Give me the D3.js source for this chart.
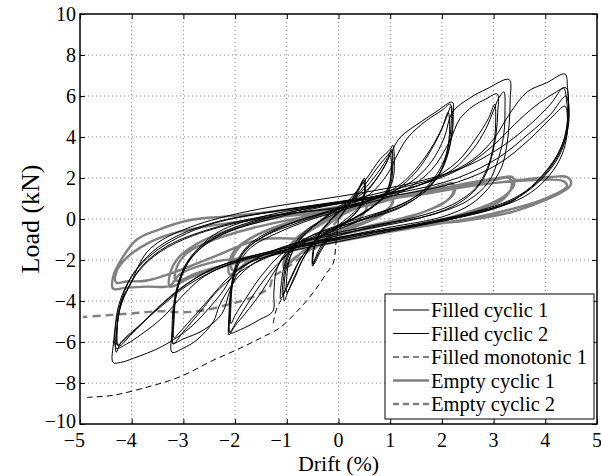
<!DOCTYPE html>
<html>
<head>
<meta charset="utf-8">
<script src="https://cdnjs.cloudflare.com/ajax/libs/d3/7.8.5/d3.min.js"></script>
<style>
  body { margin: 0; background: #fff; }
  svg { display: block; }
  .grid line { stroke: #8c8c8c; stroke-dasharray: 1,3; stroke-width: 1; }
</style>
</head>
<body>
<svg id="MyGraph" width="601" height="476" font-family="Liberation Serif, Times New Roman, serif"></svg>
<script>

// tick values
var xTicks = [-5, -4, -3, -2, -1, 0, 1, 2, 3, 4, 5];
var yTicks = [-10, -8, -6, -4, -2, 0, 2, 4, 6, 8, 10];

var legendLabels = ["Filled cyclic 1", "Filled cyclic 2", "Filled monotonic 1", "Empty cyclic 1", "Empty cyclic 2"];

// [drift %, load kN]
var filledCyclic1 = [
  [0,0],[0.15,0.5],[0.3,1.1],[0.42,1.6],[0.5,2.0],
  [0.52,1.4],[0.45,0.7],[0.3,0.2],[0,-0.4],[-0.2,-0.9],[-0.35,-1.5],[-0.45,-2.0],[-0.5,-2.3],
  [-0.5,-1.7],[-0.42,-1.0],[-0.25,-0.3],[0,0.3],[0.2,0.8],[0.35,1.3],[0.48,1.9],
  [0.5,1.3],[0.42,0.6],[0.25,0.1],[0,-0.5],[-0.2,-1.0],[-0.35,-1.6],[-0.48,-2.2],
  [-0.48,-1.5],[-0.38,-0.8],[-0.2,-0.2],[0,0.4],
  [0.3,1.2],[0.55,2.0],[0.8,2.9],[1.0,3.4],[1.05,3.6],
  [1.08,2.8],[1.05,1.9],[0.9,1.1],[0.6,0.5],[0.2,-0.1],[-0.2,-0.6],[-0.5,-1.2],[-0.7,-2.0],[-0.85,-2.9],[-0.97,-3.5],[-1.05,-4.0],
  [-1.05,-3.2],[-1.0,-2.3],[-0.85,-1.4],[-0.6,-0.6],[-0.3,0.0],[0,0.5],[0.3,1.0],[0.55,1.6],[0.8,2.4],[0.95,3.0],[1.03,3.4],
  [1.05,2.6],[1.0,1.6],[0.85,1.0],[0.5,0.3],[0,-0.4],[-0.4,-1.0],[-0.65,-1.8],[-0.85,-2.8],[-1.0,-3.6],
  [-1.0,-2.8],[-0.95,-2.0],[-0.8,-1.2],[-0.5,-0.4],[0,0.6],
  [0.5,1.3],[0.85,2.4],[1.05,3.4],[1.2,4.0],[1.6,4.75],[1.9,5.25],[2.2,5.7],
  [2.22,5.0],[2.2,4.2],[2.12,3.3],[1.97,2.3],[1.7,1.5],[1.3,0.8],[0.7,0.2],[0,-0.4],[-0.6,-1.0],[-1.0,-1.7],[-1.25,-2.6],[-1.5,-3.6],[-1.8,-4.6],[-2.0,-5.2],[-2.12,-5.66],
  [-2.12,-4.8],[-2.1,-3.8],[-2.05,-2.9],[-1.95,-2.0],[-1.75,-1.3],[-1.4,-0.7],[-0.8,-0.1],[0,0.5],[0.7,1.0],[1.2,1.7],[1.55,2.6],[1.85,3.7],[2.05,4.7],[2.18,5.5],
  [2.2,4.6],[2.15,3.5],[2.0,2.4],[1.7,1.4],[1.2,0.6],[0.5,0.0],[0,-0.5],[-0.7,-1.2],[-1.1,-2.0],[-1.45,-3.0],[-1.75,-4.1],[-1.95,-4.9],[-2.1,-5.5],
  [-2.1,-4.6],[-2.08,-3.6],[-2.0,-2.5],[-1.8,-1.5],[-1.4,-0.8],[-0.8,-0.2],[0,0.5],
  [0.8,1.1],[1.4,1.8],[1.8,2.8],[2.05,4.0],[2.2,5.2],[2.54,5.9],[2.87,6.35],[3.3,6.8],
  [3.32,5.8],[3.3,4.6],[3.25,3.5],[3.15,2.5],[2.9,1.5],[2.55,0.7],[2.0,0.1],[1.0,-0.4],[0,-0.9],[-1.0,-1.5],[-1.6,-2.1],[-2.0,-3.0],[-2.3,-4.2],[-2.42,-5.0],[-2.74,-5.9],[-3.0,-6.3],[-3.22,-6.5],
  [-3.22,-5.5],[-3.2,-4.4],[-3.12,-3.3],[-2.95,-2.2],[-2.7,-1.4],[-2.3,-0.6],[-1.5,0.1],[-0.5,0.6],[0.5,1.0],[1.5,1.6],[2.2,2.4],[2.6,3.4],[2.85,4.4],[3.0,5.3],[3.1,5.9],[3.2,6.2],
  [3.22,5.3],[3.2,4.2],[3.1,3.0],[2.9,1.8],[2.5,0.9],[1.8,0.2],[0.8,-0.3],[0,-0.8],[-1.0,-1.5],[-1.8,-2.4],[-2.3,-3.4],[-2.7,-4.6],[-3.0,-5.5],[-3.2,-6.1],
  [-3.2,-5.2],[-3.17,-4.2],[-3.1,-3.2],[-2.95,-2.2],[-2.6,-1.2],[-2.0,-0.4],[-1.0,0.3],[0,0.8],
  [1.0,1.4],[2.0,2.1],[2.6,2.9],[3.0,3.9],[3.32,5.17],[3.65,6.2],[4.03,6.65],[4.38,7.07],
  [4.43,6.4],[4.45,5.5],[4.42,4.6],[4.35,3.8],[4.16,2.8],[3.9,2.0],[3.65,1.4],[3.38,0.9],[3.0,0.5],[2.0,-0.1],[1.0,-0.6],[0,-1.1],[-1.0,-1.6],[-1.7,-2.1],[-2.0,-2.6],[-2.23,-3.5],[-2.42,-4.1],[-2.87,-5.3],[-3.4,-6.2],[-3.97,-6.8],[-4.22,-7.0],[-4.36,-7.0],
  [-4.35,-6.0],[-4.3,-5.0],[-4.2,-4.0],[-4.03,-3.2],[-3.88,-2.35],[-3.7,-1.6],[-3.4,-1.0],[-2.87,-0.4],[-2.3,0.05],[-1.5,0.5],[-0.5,0.9],[0.5,1.3],[1.5,1.8],[2.5,2.6],[3.2,3.6],[3.7,4.6],[4.1,5.6],[4.35,6.4],
  [4.42,5.6],[4.43,4.8],[4.38,4.0],[4.25,3.2],[4.0,2.3],[3.7,1.5],[3.3,0.8],[2.6,0.3],[1.5,-0.3],[0,-1.0],[-1.2,-1.6],[-2.2,-2.3],[-2.9,-3.2],[-3.4,-4.2],[-3.9,-5.3],[-4.2,-6.0],[-4.3,-6.5],
  [-4.3,-5.6],[-4.25,-4.6],[-4.15,-3.6],[-3.95,-2.6],[-3.6,-1.6],[-3.1,-0.8],[-2.3,-0.1],[-1.2,0.4],[0,0.85],[1.2,1.3],[2.3,2.0],[3.1,3.0],[3.7,4.2],[4.1,5.1],[4.4,6.0],
  [4.45,5.0],[4.4,4.0],[4.25,3.0],[3.95,2.0],[3.5,1.1],[2.8,0.4],[1.5,-0.3],[0,-0.9],[-1.5,-1.7],[-2.5,-2.5],[-3.1,-3.5],[-3.6,-4.6],[-4.0,-5.6],[-4.25,-6.2],
  [-4.28,-5.3],[-4.22,-4.3],[-4.05,-3.3],[-3.8,-2.3],[-3.3,-1.3],[-2.5,-0.5],[-1.5,0.1],[0,0.5]
];

var filledCyclic2 = [
  [0,0],[0.2,0.7],[0.35,1.2],[0.48,1.8],
  [0.5,1.2],[0.4,0.6],[0.2,0.1],[0,-0.3],[-0.2,-0.8],[-0.38,-1.5],[-0.5,-2.2],
  [-0.48,-1.5],[-0.38,-0.8],[-0.2,-0.2],[0,0.3],
  [0.3,1.0],[0.55,1.8],[0.78,2.6],[0.95,3.1],[1.02,3.3],
  [1.03,2.5],[0.97,1.6],[0.8,0.9],[0.5,0.3],[0,-0.3],[-0.4,-0.9],[-0.7,-1.8],[-0.9,-2.8],[-1.05,-3.6],[-1.12,-3.9],
  [-1.1,-3.0],[-1.03,-2.1],[-0.88,-1.3],[-0.6,-0.5],[-0.2,0.1],[0.2,0.6],[0.5,1.2],[0.75,2.0],[0.92,2.7],[1.0,3.1],
  [1.02,2.3],[0.95,1.4],[0.75,0.8],[0.4,0.2],[0,-0.4],[-0.45,-1.1],[-0.75,-2.0],[-0.95,-3.0],[-1.08,-3.7],
  [-1.06,-2.8],[-0.98,-1.9],[-0.8,-1.1],[-0.45,-0.3],[0,0.5],
  [0.6,1.2],[0.95,2.2],[1.15,3.2],[1.35,4.0],[1.7,4.8],[2.0,5.3],[2.16,5.6],
  [2.18,4.8],[2.15,3.9],[2.05,2.9],[1.85,2.0],[1.55,1.2],[1.1,0.6],[0.5,0.1],[0,-0.3],[-0.6,-0.9],[-1.0,-1.6],[-1.2,-2.5],[-1.25,-3.6],[-1.27,-4.5],[-1.52,-4.9],[-1.9,-5.4],[-2.1,-5.55],
  [-2.1,-4.4],[-2.07,-3.4],[-2.0,-2.5],[-1.85,-1.7],[-1.55,-1.0],[-1.0,-0.3],[-0.3,0.3],[0.5,0.8],[1.1,1.4],[1.5,2.3],[1.8,3.4],[2.0,4.4],[2.12,5.2],
  [2.15,4.4],[2.1,3.3],[1.95,2.2],[1.65,1.3],[1.15,0.5],[0.4,-0.1],[-0.5,-0.8],[-1.1,-1.7],[-1.5,-2.8],[-1.8,-3.9],[-2.0,-4.7],[-2.08,-5.1],
  [-2.08,-4.2],[-2.05,-3.2],[-1.95,-2.3],[-1.7,-1.4],[-1.2,-0.7],[-0.5,0.0],[0.3,0.6],
  [1.2,1.3],[1.8,2.4],[2.15,3.8],[2.35,4.9],[2.6,5.5],[2.85,5.85],[3.07,6.1],
  [3.08,5.2],[3.05,4.2],[2.98,3.2],[2.85,2.2],[2.6,1.3],[2.2,0.6],[1.5,0.0],[0.5,-0.5],[-0.5,-1.0],[-1.4,-1.7],[-1.9,-2.5],[-2.1,-3.5],[-2.25,-4.6],[-2.6,-5.4],[-3.0,-5.85],[-3.2,-6.05],
  [-3.2,-5.1],[-3.17,-4.1],[-3.08,-3.1],[-2.9,-2.1],[-2.6,-1.3],[-2.1,-0.6],[-1.3,0.0],[-0.3,0.6],[0.8,1.1],[1.7,1.8],[2.3,2.8],[2.65,3.9],[2.9,4.9],[3.02,5.6],
  [3.04,4.7],[3.0,3.6],[2.88,2.5],[2.65,1.5],[2.2,0.7],[1.5,0.1],[0.5,-0.4],[-0.6,-1.0],[-1.5,-1.8],[-2.1,-2.8],[-2.5,-3.9],[-2.85,-4.9],[-3.1,-5.6],[-3.18,-5.8],
  [-3.18,-4.9],[-3.15,-3.9],[-3.05,-2.9],[-2.85,-1.9],[-2.45,-1.0],[-1.8,-0.3],[-0.8,0.4],[0.3,0.9],
  [1.5,1.6],[2.4,2.5],[3.0,3.6],[3.4,4.6],[3.8,5.5],[4.15,6.1],[4.4,6.4],
  [4.45,5.7],[4.46,4.9],[4.4,4.0],[4.25,3.1],[4.0,2.2],[3.7,1.5],[3.3,0.9],[2.7,0.4],[1.6,-0.2],[0.3,-0.8],[-1.0,-1.5],[-2.0,-2.1],[-2.6,-2.8],[-3.0,-3.7],[-3.4,-4.8],[-3.8,-5.6],[-4.1,-6.1],[-4.3,-6.3],
  [-4.32,-5.4],[-4.27,-4.4],[-4.15,-3.5],[-3.95,-2.6],[-3.6,-1.7],[-3.1,-0.9],[-2.4,-0.2],[-1.4,0.3],[0,0.8],[1.2,1.2],[2.3,1.8],[3.1,2.7],[3.7,3.9],[4.1,4.9],[4.38,5.5],
  [4.43,4.7],[4.4,3.8],[4.28,2.9],[4.0,1.9],[3.6,1.1],[3.0,0.5],[2.0,-0.1],[0.5,-0.7],[-1.0,-1.4],[-2.2,-2.2],[-2.9,-3.1],[-3.4,-4.1],[-3.8,-5.1],[-4.1,-5.8],[-4.28,-6.15],
  [-4.28,-5.3],[-4.22,-4.3],[-4.08,-3.4],[-3.85,-2.5],[-3.45,-1.6],[-2.8,-0.8],[-1.8,-0.1],[-0.5,0.4],[0.5,0.7]
];

// null = break in the dashed line
var filledMonotonic1 = [
  [0,0],[-0.05,-1.2],[-0.1,-2.15],[-0.22,-2.6],[-0.49,-3.6],[-0.8,-4.5],[-1.13,-5.3],[-1.5,-5.8],[-1.9,-6.3],
  [-2.43,-6.9],[-3.07,-7.7],[-3.7,-8.2],[-4.36,-8.6],[-4.86,-8.7],
  null,
  [-1.1,-3.9],[-1.2,-4.4],[-1.25,-4.9],[-1.27,-5.3]
];

var emptyCyclic1 = [
  [0,0],[0.2,0.5],[0.5,1.0],[0.55,0.6],[0.4,0.0],[0,-0.6],[-0.3,-1.1],[-0.5,-1.5],[-0.5,-1.1],[-0.3,-0.5],[0,0.1],
  [0.5,0.7],[1.0,1.3],[1.05,0.9],[0.9,0.3],[0.4,-0.3],[0,-0.7],[-0.5,-1.3],[-0.9,-2.0],[-1.05,-2.4],
  [-1.05,-1.9],[-0.9,-1.2],[-0.5,-0.5],[0,0.2],[0.5,0.7],[1.0,1.25],[1.05,0.8],[0.8,0.2],[0,-0.6],[-0.6,-1.4],[-1.0,-2.2],
  [-1.0,-1.6],[-0.8,-0.9],[-0.3,-0.1],[0,0.3],
  [0.8,0.8],[1.5,1.3],[2.0,1.6],[2.2,1.75],[2.25,1.4],[2.15,1.0],[1.8,0.5],[1.0,-0.2],[0,-0.8],[-1.0,-1.4],[-1.7,-2.0],[-2.1,-2.7],
  [-2.12,-2.2],[-2.0,-1.5],[-1.6,-0.8],[-1.0,-0.2],[0,0.4],[1.0,1.0],[1.8,1.5],[2.2,1.7],[2.22,1.3],[2.05,0.8],[1.6,0.3],[0.5,-0.4],[-0.5,-1.0],[-1.5,-1.8],[-2.05,-2.5],
  [-2.05,-1.9],[-1.8,-1.1],[-1.2,-0.4],[-0.3,0.2],
  [0.8,0.9],[1.8,1.4],[2.6,1.8],[3.1,2.0],[3.36,2.05],[3.4,1.7],[3.25,1.2],[2.9,0.7],[2.2,0.1],[1.2,-0.5],[0,-1.1],[-1.2,-1.7],[-2.2,-2.3],[-2.9,-2.9],[-3.26,-3.3],
  [-3.25,-2.6],[-3.1,-1.9],[-2.8,-1.3],[-2.3,-0.7],[-1.5,-0.1],[0,0.6],[1.2,1.1],[2.3,1.6],[3.0,1.9],[3.3,2.0],[3.35,1.6],[3.2,1.0],[2.8,0.5],[2.0,-0.1],[0.8,-0.7],[-0.5,-1.3],[-1.8,-2.0],[-2.7,-2.6],[-3.15,-3.0],
  [-3.12,-2.3],[-2.9,-1.6],[-2.4,-1.0],[-1.6,-0.4],[-0.5,0.2],
  [0.5,0.8],[1.77,1.27],[2.4,1.55],[3.5,1.9],[4.1,2.05],[4.42,2.05],[4.5,1.8],[4.46,1.55],[4.03,0.95],[3.37,0.35],[2.4,-0.1],[1.77,-0.25],[0.5,-0.8],[-0.8,-1.4],[-1.71,-1.85],[-2.42,-2.1],[-3.07,-2.7],[-3.26,-3.25],[-3.7,-3.3],[-4.1,-3.35],[-4.36,-3.4],
  [-4.36,-2.83],[-4.17,-1.85],[-3.9,-1.0],[-3.51,-0.55],[-2.87,-0.05],[-2.04,0.15],[-1.0,0.45],[0,0.8],[1.0,1.1],[2.0,1.45],[3.0,1.75],[3.8,1.9],[4.35,1.85],[4.42,1.6],[4.3,1.35],[3.9,0.9],[3.3,0.45],[2.6,0.05],[1.5,-0.4],[0,-1.0],[-1.5,-1.0],[-2.42,-1.85],[-3.07,-2.5],[-3.7,-3.0],[-4.1,-3.05],[-4.3,-3.1],
  [-4.3,-2.6],[-4.1,-1.9],[-3.7,-1.2],[-3.2,-0.7],[-2.4,-0.3],[-1.5,0.0],[0,0.4]
];

var emptyCyclic2 = [
  [0,0],[-0.3,-0.9],[-0.6,-1.6],[-0.9,-2.2],[-1.2,-2.7],[-1.27,-2.8],[-1.33,-3.3],[-1.65,-3.8],[-2.1,-4.15],
  [-2.6,-4.45],[-3.0,-4.55],[-3.45,-4.5],[-3.97,-4.6],[-4.5,-4.7],[-4.94,-4.78]
];

var margin = {top: 14, right: 4, bottom: 52, left: 80};
var width = 601 - margin.left - margin.right;
var height = 476 - margin.top - margin.bottom;

var svg = d3.select("#MyGraph")
    .append("g")
    .attr("transform", "translate(" + margin.left + "," + margin.top + ")");

var x_scale = d3.scaleLinear().domain([-5, 5]).range([0, width]);
var y_scale = d3.scaleLinear().domain([-10, 10]).range([height, 0]);

// dotted grid
svg.append("g")
    .attr("class", "grid")
    .selectAll("line")
    .data(xTicks.slice(1, -1))
    .enter()
    .append("line")
    .attr("x1", function(d){ return x_scale(d); })
    .attr("x2", function(d){ return x_scale(d); })
    .attr("y1", 0)
    .attr("y2", height);

svg.append("g")
    .attr("class", "grid")
    .selectAll("line")
    .data(yTicks.slice(1, -1))
    .enter()
    .append("line")
    .attr("x1", 0)
    .attr("x2", width)
    .attr("y1", function(d){ return y_scale(d); })
    .attr("y2", function(d){ return y_scale(d); });

svg.append("clipPath")
    .attr("id", "plotClip")
    .append("rect")
    .attr("width", width)
    .attr("height", height);

var line = d3.line()
    .defined(function(d){ return d != null; })
    .x(function(d){ return x_scale(d[0]); })
    .y(function(d){ return y_scale(d[1]); })
    .curve(d3.curveCatmullRom.alpha(0.5));

var series = [
  {data: emptyCyclic1, color: "#808080", w: 2.4, dash: null},
  {data: emptyCyclic2, color: "#808080", w: 2.4, dash: "8,5"},
  {data: filledMonotonic1, color: "#000", w: 1, dash: "6,4"},
  {data: filledCyclic2, color: "#000", w: 1, dash: null},
  {data: filledCyclic1, color: "#000", w: 1, dash: null}
];

var plot = svg.append("g").attr("clip-path", "url(#plotClip)");

series.forEach(function(s){
  plot.append("path")
      .datum(s.data)
      .attr("fill", "none")
      .attr("stroke", s.color)
      .attr("stroke-width", s.w)
      .attr("stroke-linejoin", "round")
      .attr("stroke-dasharray", s.dash)
      .attr("d", line);
});

// axes (inner ticks on all four sides)
var fmt = d3.format("d");

svg.append("g")
    .attr("transform", "translate(0," + height + ")")
    .call(d3.axisBottom(x_scale).tickValues(xTicks).tickSizeInner(-5).tickSizeOuter(0).tickFormat(""))
    .call(function(g){ g.select(".domain").remove(); });
svg.append("g")
    .call(d3.axisTop(x_scale).tickValues(xTicks).tickSizeInner(-5).tickSizeOuter(0).tickFormat(""))
    .call(function(g){ g.select(".domain").remove(); });
svg.append("g")
    .call(d3.axisLeft(y_scale).tickValues(yTicks).tickSizeInner(-5).tickSizeOuter(0).tickFormat(""))
    .call(function(g){ g.select(".domain").remove(); });
svg.append("g")
    .attr("transform", "translate(" + width + ",0)")
    .call(d3.axisRight(y_scale).tickValues(yTicks).tickSizeInner(-5).tickSizeOuter(0).tickFormat(""))
    .call(function(g){ g.select(".domain").remove(); });

svg.append("rect")
    .attr("width", width)
    .attr("height", height)
    .attr("fill", "none")
    .attr("stroke", "#000")
    .attr("stroke-width", 1.5);

// tick labels: digit centred on the tick, minus hangs left
svg.append("g")
    .selectAll("text")
    .data(xTicks)
    .enter()
    .append("text")
    .attr("font-size", 20)
    .attr("x", function(d){ return x_scale(d); })
    .attr("y", height + 23)
    .attr("dx", function(d){ return d < 0 ? "-0.28em" : 0; })
    .attr("text-anchor", "middle")
    .text(function(d){ return fmt(d); });

svg.append("g")
    .selectAll("text")
    .data(yTicks)
    .enter()
    .append("text")
    .attr("font-size", 20)
    .attr("x", -4)
    .attr("y", function(d){ return y_scale(d); })
    .attr("dy", function(d){ return d == -10 ? "0.2em" : "0.35em"; })
    .attr("text-anchor", "end")
    .text(function(d){ return fmt(d); });

svg.append("text")
    .attr("x", width / 2)
    .attr("y", height + 47)
    .attr("text-anchor", "middle")
    .attr("font-size", 22)
    .text("Drift (%)");

svg.append("text")
    .attr("transform", "translate(-41," + (height / 2) + ") rotate(-90)")
    .attr("text-anchor", "middle")
    .attr("font-size", 26)
    .text("Load (kN)");

// legend
var legend = svg.append("g")
    .attr("transform", "translate(" + (385 - margin.left) + "," + (294 - margin.top) + ")");

legend.append("rect")
    .attr("width", 209)
    .attr("height", 125)
    .attr("fill", "#fff")
    .attr("stroke", "#000")
    .attr("stroke-width", 1);

var legendStyle = [
  {color: "#000", w: 1, dash: null},
  {color: "#000", w: 1, dash: null},
  {color: "#000", w: 1, dash: "6,4"},
  {color: "#808080", w: 2.4, dash: null},
  {color: "#808080", w: 2.4, dash: "6,4"}
];

var rows = legend.selectAll("g.row")
    .data(legendLabels)
    .enter()
    .append("g")
    .attr("class", "row")
    .attr("transform", function(d, i){ return "translate(0," + (16 + i * 23.5) + ")"; });

rows.append("line")
    .attr("x1", 8)
    .attr("x2", 44)
    .attr("stroke", function(d, i){ return legendStyle[i].color; })
    .attr("stroke-width", function(d, i){ return legendStyle[i].w; })
    .attr("stroke-dasharray", function(d, i){ return legendStyle[i].dash; });

rows.append("text")
    .attr("x", 46)
    .attr("dy", "0.35em")
    .attr("font-size", 20.5)
    .text(function(d){ return d; });

</script>
</body>
</html>
